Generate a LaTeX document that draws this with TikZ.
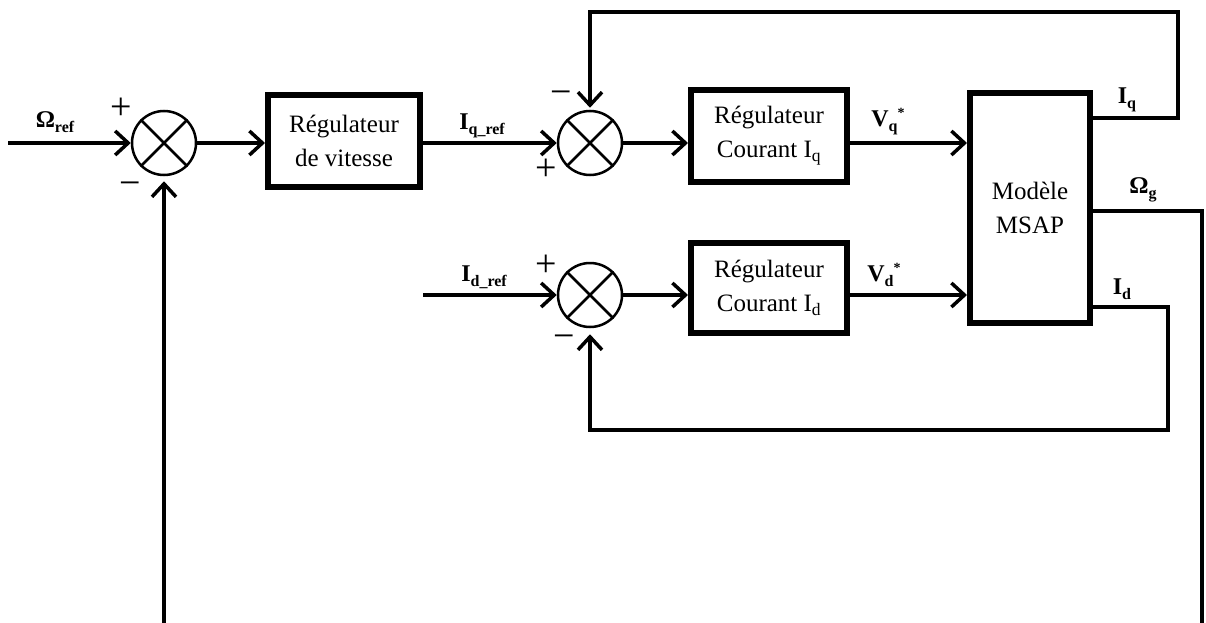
\documentclass[tikz,border=0pt]{standalone}
\usepackage{fontspec}
\setmainfont{Liberation Serif}
\usetikzlibrary{arrows.meta,calc}
\newcommand{\lsub}[1]{\raisebox{-5pt}{\fontsize{16}{16}\selectfont #1}}
\newcommand{\lsup}[1]{\raisebox{9pt}{\fontsize{14}{14}\selectfont #1}}
\begin{document}
\begin{tikzpicture}[x=1pt,y=-1pt,
  line/.style={line width=3.5pt},
  arr/.style={line width=3.5pt,-{Straight Barb[length=13pt,width=24pt,line width=3.5pt]}},
  sum/.style={circle,draw,line width=2.5pt,minimum size=64pt,inner sep=0pt},
  blk/.style={draw,line width=6pt,align=center,font=\fontsize{25}{34}\selectfont,inner sep=0pt},
  lbl/.style={font=\fontsize{24}{26}\selectfont\bfseries,inner sep=0pt},
  sgn/.style={font=\fontsize{38}{38}\selectfont,inner sep=0pt,anchor=base}]
\useasboundingbox (0,0) rectangle (1206,623);
% summers
\node[sum] (s1) at (164,143) {};
\node[sum] (s2) at (590,143) {};
\node[sum] (s3) at (590,295) {};
\foreach \s in {s1,s2,s3}{
  \draw[line width=2.5pt] (\s.north west) -- (\s.south east);
  \draw[line width=2.5pt] (\s.north east) -- (\s.south west);
}
% blocks
\node[blk,minimum width=152pt,minimum height=91pt] (b1) at (344,141) {Régulateur\\de vitesse};
\node[blk,minimum width=156pt,minimum height=91pt] (b2) at (769,136) {Régulateur\\Courant I\textsubscript{q}};
\node[blk,minimum width=156pt,minimum height=90pt] (b3) at (769,288) {Régulateur\\Courant I\textsubscript{d}};
\node[blk,minimum width=120pt,minimum height=229pt] (m) at (1030,208) {Modèle\\MSAP};
% inputs
\coordinate (in1) at (8,143);
\coordinate (in3) at (423,295);
\draw[arr] (in1) -- (s1.west);
\draw[arr] (s1.east) -- (b1.west |- s1.east);
\draw[arr] (b1.east |- s2.west) -- (s2.west);
\draw[arr] (s2.east) -- (b2.west |- s2.east);
\draw[arr] (b2.east |- s2.east) -- (m.west |- s2.east);
\draw[arr] (in3) -- (s3.west);
\draw[arr] (s3.east) -- (b3.west |- s3.east);
\draw[arr] (b3.east |- s3.east) -- (m.west |- s3.east);
% feedbacks
\draw[arr] (m.east |- 0,118) -- (1178,118) -- (1178,12) -| ([yshift=2pt]s2.north);
\draw[arr] (m.east |- 0,307) -- (1168,307) -- (1168,430) -| ([yshift=-6pt]s3.south);
\draw[line] (m.east |- 0,211) -- (1202,211) -- (1202,630);
\draw[arr] (s1.south |- 0,630) -- ([yshift=-5pt]s1.south);
% labels
\node[lbl] at (55,122) {Ω\lsub{ref}};
\node[lbl] at (482,126) {I\lsub{q\_ref}};
\node[lbl] at (484,277) {I\lsub{d\_ref}};
\node[lbl] at (888,122) {V\lsub{q}\lsup{*}};
\node[lbl] at (884,275) {V\lsub{d}\lsup{*}};
\node[lbl] at (1127,100) {I\lsub{q}};
\node[lbl] at (1143,190) {Ω\lsub{g}};
\node[lbl] at (1122,289) {I\lsub{d}};
% signs
\node[sgn] at (121,119) {+};
\node[sgn] at (130,195) {−};
\node[sgn] at (561,105) {−};
\node[sgn] at (546,180) {+};
\node[sgn] at (546,276) {+};
\node[sgn] at (564,348) {−};
\end{tikzpicture}
\end{document}
